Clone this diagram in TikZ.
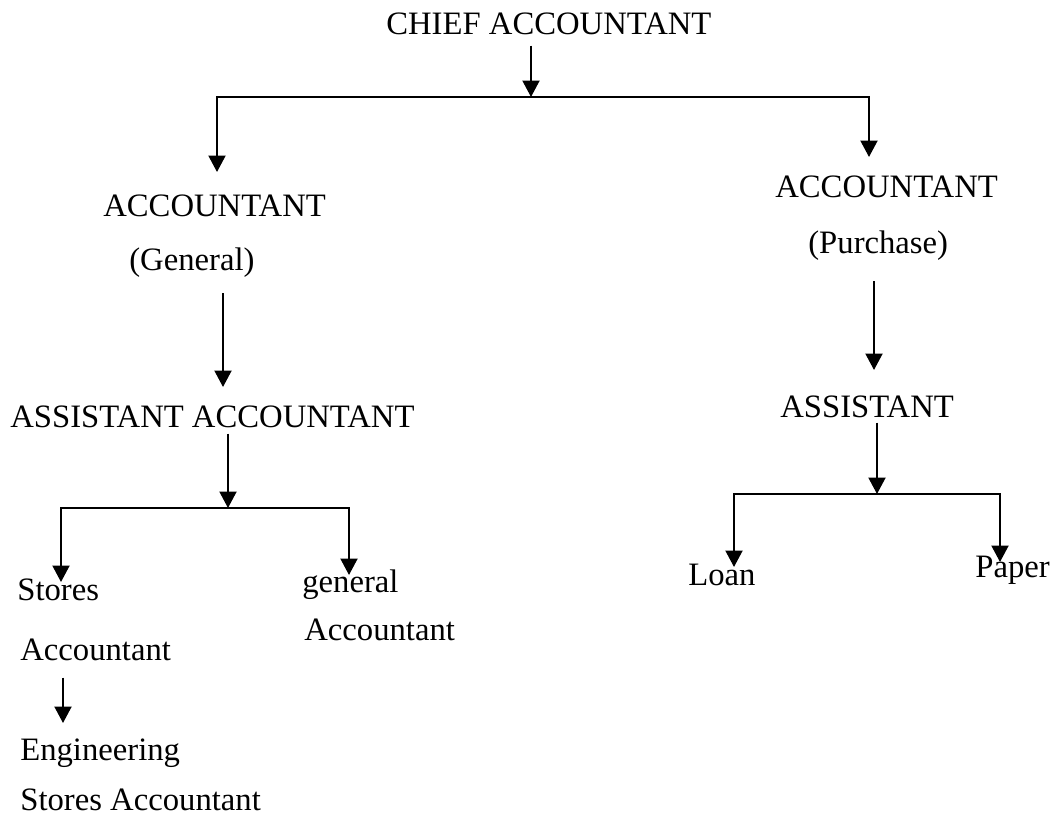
\documentclass[tikz,border=0pt]{standalone}
\usepackage{fontspec}
\setmainfont{Liberation Serif}
\usepackage{tikz}
\usetikzlibrary{arrows.meta, calc}

\begin{document}
\begin{tikzpicture}[
  x=0.02cm, y=-0.02cm,
  post/.style={anchor=base west, inner sep=0pt, font=\fontsize{18.6}{22}\selectfont},
  arrow/.style={-{Triangle[length=0.33cm, width=0.34cm]}, line width=1.2pt},
  bar/.style={line width=1.2pt}
]
\useasboundingbox (0,0) rectangle (1052,821);

% ---- SOMMET ----
\node[post] (chief) at (386,35) {CHIEF ACCOUNTANT};
\coordinate (j0) at (531,97);

% ---- BRANCHE GENERAL ----
\node[post] (accG)    at (103,216) {ACCOUNTANT};
\node[post] (gen)     at (129,270) {(General)};
\node[post] (asstA)   at (10,427)  {ASSISTANT ACCOUNTANT};
\node[post] (storesA) at (17,600)  {Stores};
\node[post] (storesB) at (20,660)  {Accountant};
\node[post] (genA)    at (302,592) {general};
\node[post] (genB)    at (304,640) {Accountant};
\node[post] (engA)    at (20,760)  {Engineering};
\node[post] (engB)    at (20,810)  {Stores Accountant};

\coordinate (accG-in)   at (217,172);
\coordinate (asstA-in)  at (223,387);
\coordinate (j1)        at (228,508);
\coordinate (stores-in) at (61,582);
\coordinate (genA-in)   at (349,575);
\coordinate (eng-in)    at (63,723);

% ---- BRANCHE ACHATS ----
\node[post] (accP)  at (775,197) {ACCOUNTANT};
\node[post] (purch) at (808,254) {(Purchase)};
\node[post] (asstP) at (780,417) {ASSISTANT};
\node[post] (loan)  at (688,585) {Loan};
\node[post] (paper) at (975,577) {Paper};

\coordinate (accP-in)   at (869,157);
\coordinate (asstP-in)  at (874,370);
\coordinate (j2)        at (877,494);
\coordinate (loan-in)   at (734,567);
\coordinate (paper-in)  at (1000,562);

% ---- Flèches ----
\draw[arrow] ($(chief.south -| j0)+(0,10)$) -- (j0);
\draw[arrow] (j0) -| (accG-in);
\draw[arrow] (j0) -| (accP-in);

\draw[arrow] ($(gen.south -| asstA-in)+(0,16)$) -- (asstA-in);
\draw[arrow] ($(asstA.south -| j1)+(0,6)$) -- (j1);
\draw[arrow] (j1) -| (stores-in);
\draw[arrow] (j1) -| (genA-in);
\draw[arrow] ($(storesB.south -| eng-in)+(0,17)$) -- (eng-in);

\draw[arrow] ($(purch.south -| asstP-in)+(0,20)$) -- (asstP-in);
\draw[arrow] ($(asstP.south -| j2)+(0,5)$) -- (j2);
\draw[arrow] (j2) -| (loan-in);
\draw[arrow] (j2) -| (paper-in);

\end{tikzpicture}
\end{document}
